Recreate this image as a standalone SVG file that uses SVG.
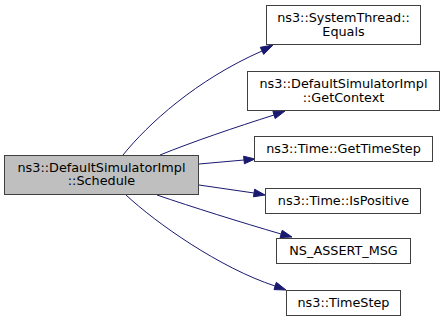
<svg xmlns="http://www.w3.org/2000/svg" width="445" height="321" viewBox="0 0 445 321">
  <style>
    .node rect { fill: #ffffff; stroke: #404040; stroke-width: 1; }
    .node.current rect { fill: #bfbfbf; }
    .node text { font-family: "DejaVu Sans", sans-serif; font-size: 12.8px; fill: #000000; text-anchor: middle; }
    .edge path { fill: none; stroke: #191970; stroke-width: 1; }
    .edge polygon { fill: #191970; stroke: #191970; stroke-width: 1; }
  </style>
  <rect width="445" height="321" fill="#ffffff"/>

  <!-- call edges -->
  <g id="edges" class="edge">
    <path d="M123,155 C148,124 196,80 262,51"/>
    <polygon points="260.3,47.3 273,45 263.7,54.4"/>
    <path d="M160,155 C192,142 236,127 274,115"/>
    <polygon points="272.9,111.3 285,111 275.2,118.6"/>
    <path d="M199,164 L244,160"/>
    <polygon points="243.6,156.2 255,159 244.4,163.8"/>
    <path d="M199,185 L254,193"/>
    <polygon points="254.6,189.2 265,195 253.5,196.8"/>
    <path d="M157,195 C192,207 240,222 281,234"/>
    <polygon points="282.2,230.3 292,237 280.1,237.6"/>
    <path d="M126,195 C156,223 220,268 275,286"/>
    <polygon points="276.3,282.3 286,290 274.0,289.6"/>
  </g>

  <g id="node-schedule" class="node current">
    <rect x="4.5" y="155.5" width="194" height="39"/>
    <text x="101.5" y="171.5">ns3::DefaultSimulatorImpl</text>
    <text x="101.5" y="185">::Schedule</text>
  </g>

  <g id="node-equals" class="node">
    <rect x="266.5" y="5.5" width="154" height="39"/>
    <text x="343.5" y="21.5">ns3::SystemThread::</text>
    <text x="343.5" y="35.5">Equals</text>
  </g>

  <g id="node-getcontext" class="node">
    <rect x="247.5" y="71.5" width="192" height="39"/>
    <text x="343.5" y="87.5">ns3::DefaultSimulatorImpl</text>
    <text x="343.5" y="101.5">::GetContext</text>
  </g>

  <g id="node-gettimestep" class="node">
    <rect x="254.5" y="136.5" width="178" height="25"/>
    <text x="343.5" y="153">ns3::Time::GetTimeStep</text>
  </g>

  <g id="node-ispositive" class="node">
    <rect x="265.5" y="188.5" width="155" height="25"/>
    <text x="343.5" y="205">ns3::Time::IsPositive</text>
  </g>

  <g id="node-assert" class="node">
    <rect x="276.5" y="238.5" width="134" height="25"/>
    <text x="343.5" y="255">NS_ASSERT_MSG</text>
  </g>

  <g id="node-timestep" class="node">
    <rect x="286.5" y="290.5" width="114" height="25"/>
    <text x="343.5" y="307">ns3::TimeStep</text>
  </g>
</svg>
